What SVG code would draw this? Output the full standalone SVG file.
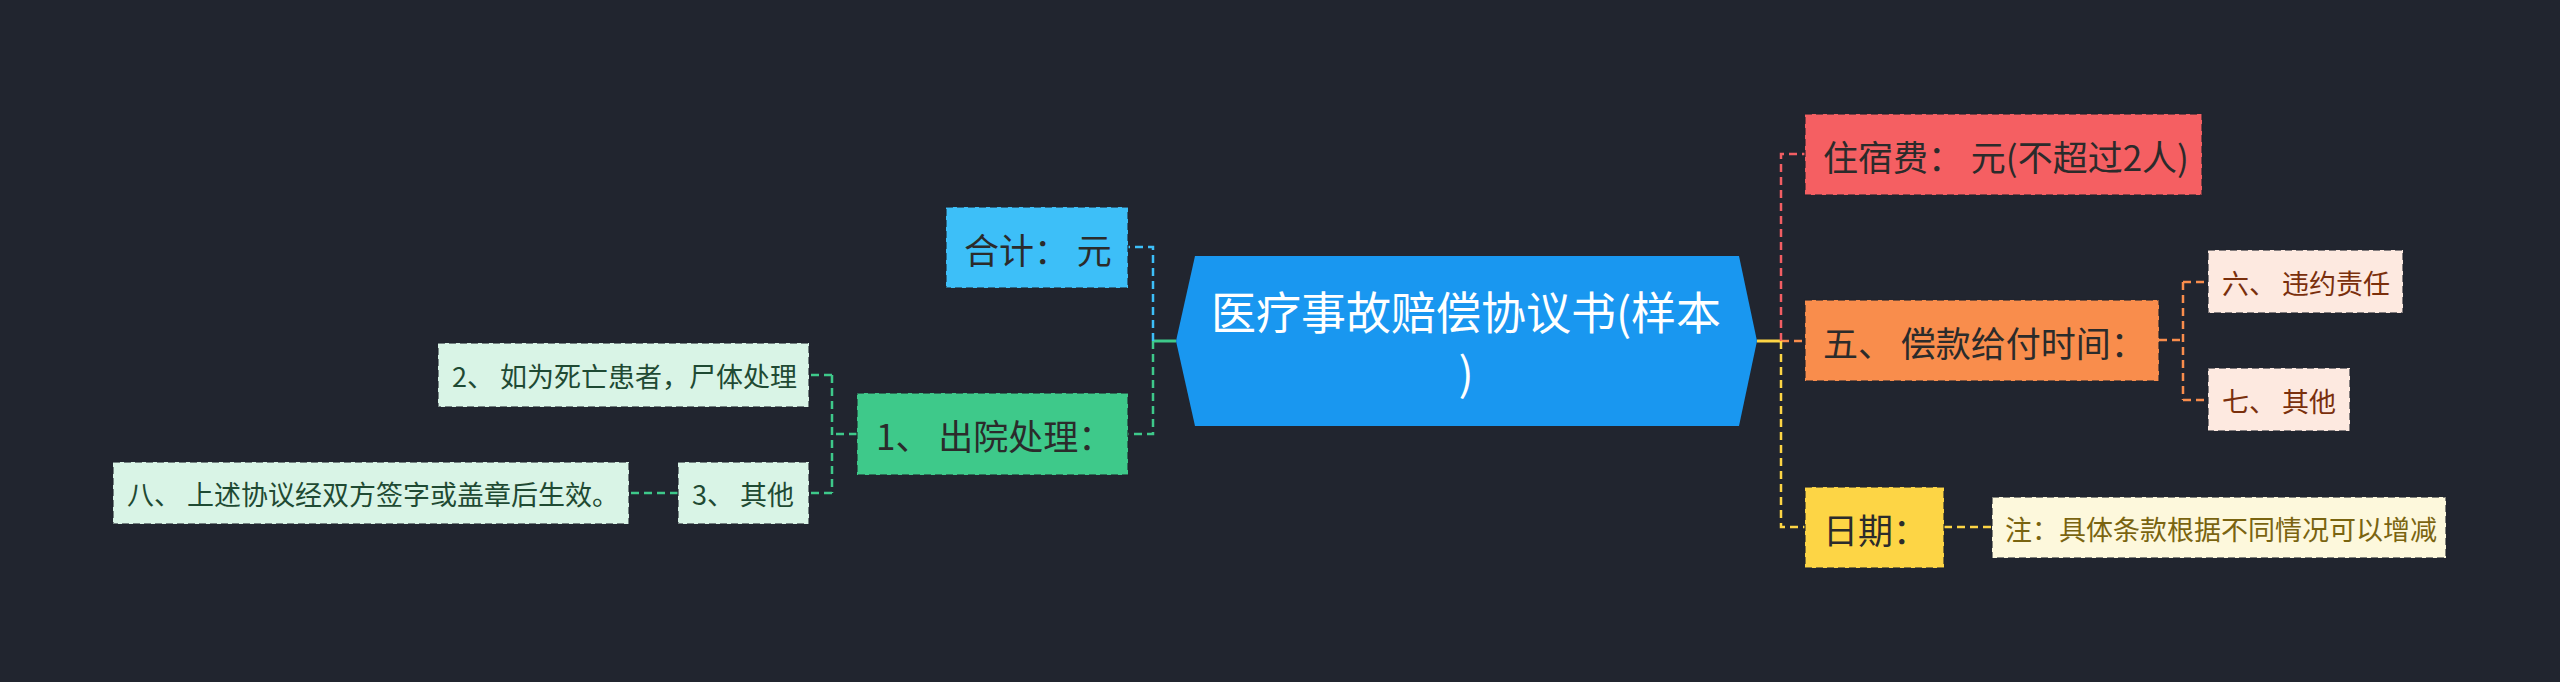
<svg xmlns="http://www.w3.org/2000/svg" width="2560" height="682" viewBox="0 0 2560 682">
<style>
text{font-family:"Noto Sans CJK SC","Noto Sans",sans-serif;dominant-baseline:central}
.big{font-size:35px;fill:#2b2b2b}
.sm{font-size:27px}
.box{stroke:#1f232c;stroke-opacity:0.55;stroke-width:2;stroke-dasharray:7 4}
.c{fill:none;stroke-width:2.5;stroke-dasharray:8 5}
.solid{fill:none;stroke-width:3}
</style>
<rect width="2560" height="682" fill="#21252f"/>
<g id="connectors">
<path class="solid" d="M1153,341 H1176" stroke="#3ec98a"/>
<path class="c" d="M1153,341 V247 H1127" stroke="#3dbff8"/>
<path class="c" d="M1153,341 V434 H1128" stroke="#3ec98a"/>
<path class="c" d="M857,434 H832 M832,375 V493 M832,375 H809 M832,493 H809" stroke="#3ec98a"/>
<path class="c" d="M678,493 H629" stroke="#3ec98a"/>
<path class="solid" d="M1757,341 H1781" stroke="#fdd545"/>
<path class="c" d="M1781,341 V154 H1805" stroke="#f25e63"/>
<path class="c" d="M1781,341 H1805" stroke="#f98d4c"/>
<path class="c" d="M1781,341 V527 H1805" stroke="#fdd545"/>
<path class="c" d="M2159,340 H2183 M2183,282 V400 M2183,282 H2208 M2183,400 H2208" stroke="#f98d4c"/>
<path class="c" d="M1944,527 H1992" stroke="#fdd545"/>
</g>
<g id="root">
<polygon points="1195,256 1739,256 1757,341 1739,426 1195,426 1176,341" fill="#1997f0"/>
<text x="1466" y="310" text-anchor="middle" font-size="45" fill="#ffffff">医疗事故赔偿协议书(样本</text>
<text x="1466" y="370" text-anchor="middle" font-size="45" fill="#ffffff">)</text>
</g>
<g id="n-heji">
<rect class="box" x="946" y="207" width="182" height="81" fill="#3dbff8"/>
<text class="big" x="964" y="248">合计： 元</text>
</g>
<g id="n-chuyuan">
<rect class="box" x="857" y="393" width="271" height="82" fill="#3ec98a"/>
<text class="big" x="876" y="434">1、 出院处理：</text>
</g>
<g id="n-2">
<rect class="box" x="438" y="343" width="371" height="64" fill="#d9f4e6"/>
<text class="sm" x="452" y="375" fill="#1f4a33">2、 如为死亡患者，尸体处理</text>
</g>
<g id="n-3">
<rect class="box" x="678" y="462" width="131" height="62" fill="#d9f4e6"/>
<text class="sm" x="692" y="493" fill="#1f4a33">3、 其他</text>
</g>
<g id="n-8">
<rect class="box" x="113" y="462" width="516" height="62" fill="#d9f4e6"/>
<text class="sm" x="127" y="493" fill="#1f4a33">八、 上述协议经双方签字或盖章后生效。</text>
</g>
<g id="n-zhusu">
<rect class="box" x="1805" y="114" width="397" height="81" fill="#f55f62"/>
<text class="big" x="1823" y="155">住宿费： 元(不超过2人)</text>
</g>
<g id="n-5">
<rect class="box" x="1805" y="300" width="354" height="81" fill="#f98d4c"/>
<text class="big" x="1823" y="341">五、 偿款给付时间：</text>
</g>
<g id="n-riqi">
<rect class="box" x="1805" y="487" width="139" height="81" fill="#fdd545"/>
<text class="big" x="1823" y="528">日期：</text>
</g>
<g id="n-6">
<rect class="box" x="2208" y="250" width="195" height="63" fill="#fde9e0"/>
<text class="sm" x="2222" y="282" fill="#7a2f0c">六、 违约责任</text>
</g>
<g id="n-7">
<rect class="box" x="2208" y="368" width="142" height="63" fill="#fde9e0"/>
<text class="sm" x="2222" y="400" fill="#7a2f0c">七、 其他</text>
</g>
<g id="n-zhu">
<rect class="box" x="1992" y="497" width="454" height="61" fill="#fdf8dc"/>
<text class="sm" x="2005" y="528" fill="#7a6410">注：具体条款根据不同情况可以增减</text>
</g>
</svg>
